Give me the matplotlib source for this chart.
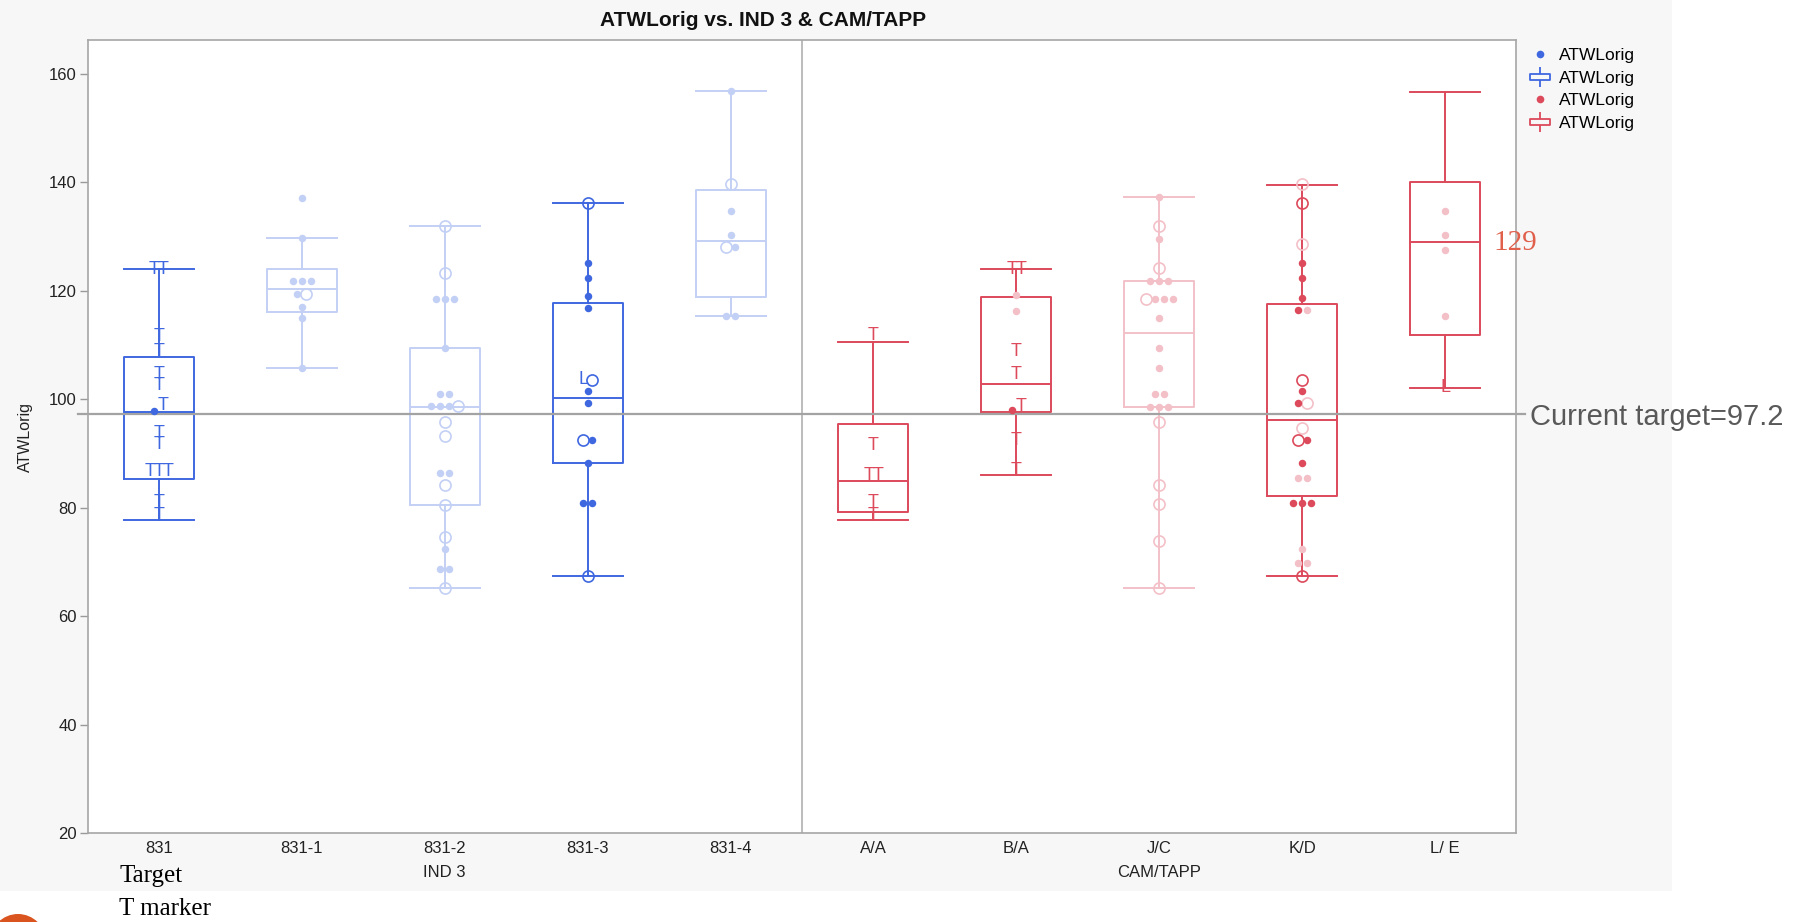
import matplotlib
matplotlib.use("Agg")
import matplotlib.pyplot as plt
from matplotlib.lines import Line2D
from matplotlib.path import Path
from matplotlib.patches import Rectangle, Ellipse

plt.rcParams['font.family'] = ['Liberation Sans', 'DejaVu Sans']

# categories and box statistics (whisker low, q1, median, q3, whisker high)
cats = ['831', '831-1', '831-2', '831-3', '831-4', 'A/A', 'B/A', 'J/C', 'K/D', 'L/ E']
whislo = [77.7, 105.8, 65.1, 67.3, 115.3, 77.7, 86.0, 65.1, 67.3, 102.1]
q1 = [85.2, 116.0, 80.5, 88.2, 118.9, 79.1, 97.7, 98.6, 82.1, 111.9]
med = [97.7, 120.3, 98.6, 100.2, 129.2, 84.9, 102.8, 112.2, 96.1, 128.9]
q3 = [107.7, 123.9, 109.4, 117.7, 138.5, 95.4, 118.9, 121.7, 117.5, 140.0]
whishi = [123.9, 129.7, 132.0, 136.2, 156.8, 110.5, 123.9, 137.3, 139.5, 156.6]

# points (value, kind), left to right where they share a row
p_831 = [(123.9, 'T'), (123.9, 'T'), (111.5, 'T'), (108.8, 'T'), (104.6, 'T'), (102.5, 'T'),
         (97.8, 'dot'), (98.8, 'T'), (93.7, 'T'), (91.6, 'T'), (86.6, 'T'), (86.6, 'T'),
         (86.6, 'T'), (80.9, 'T'), (78.6, 'T')]
p_831_1 = [(137.1, 'dot'), (129.7, 'dot'), (121.8, 'dot'), (121.8, 'dot'), (121.8, 'dot'),
           (119.4, 'dot'), (119.4, 'ring'), (117.0, 'dot'), (114.9, 'dot'), (105.8, 'dot')]
p_831_2 = [(132.0, 'ring'), (123.3, 'ring'), (118.5, 'dot'), (118.5, 'dot'), (118.5, 'dot'),
           (109.4, 'dot'), (101.0, 'dot'), (101.0, 'dot'), (98.7, 'dot'), (98.7, 'dot'),
           (98.7, 'dot'), (98.7, 'ring'), (95.7, 'ring'), (93.1, 'ring'), (86.3, 'dot'),
           (86.3, 'dot'), (84.1, 'ring'), (80.5, 'ring'), (74.6, 'ring'), (72.3, 'dot'),
           (68.7, 'dot'), (68.7, 'dot'), (65.1, 'ring')]
p_831_3 = [(136.2, 'ring'), (125.0, 'dot'), (122.4, 'dot'), (119.0, 'dot'), (116.8, 'dot'),
           (103.6, 'L'), (103.6, 'ring'), (101.5, 'dot'), (99.3, 'dot'), (92.4, 'ring'),
           (92.4, 'dot'), (88.2, 'dot'), (80.9, 'dot'), (80.9, 'dot'), (67.3, 'ring')]
p_831_4 = [(156.8, 'dot'), (139.7, 'ring'), (134.6, 'dot'), (130.3, 'dot'), (128.1, 'ring'),
           (128.1, 'dot'), (115.3, 'dot'), (115.3, 'dot')]
p_aa = [(111.7, 'T'), (91.4, 'T'), (86.0, 'T'), (86.0, 'T'), (80.9, 'T'), (78.6, 'T')]
p_ba = [(123.9, 'T'), (123.9, 'T'), (119.1, 'ldot'), (116.3, 'ldot'), (108.8, 'T'),
        (104.6, 'T'), (98.0, 'dot'), (98.6, 'T'), (92.3, 'T'), (86.8, 'T')]
p_jc = [(137.3, 'dot'), (132.0, 'ring'), (129.6, 'dot'), (124.1, 'ring'), (121.8, 'dot'),
        (121.8, 'dot'), (121.8, 'dot'), (118.5, 'ring'), (118.5, 'dot'), (118.5, 'dot'),
        (118.5, 'dot'), (114.9, 'dot'), (109.5, 'dot'), (105.7, 'dot'), (100.9, 'dot'),
        (100.9, 'dot'), (98.6, 'dot'), (98.6, 'dot'), (98.6, 'dot'), (95.7, 'ring'),
        (84.1, 'ring'), (80.6, 'ring'), (73.8, 'ring'), (65.1, 'ring')]
p_kd = [(139.6, 'lring'), (136.2, 'ring'), (128.5, 'lring'), (125.0, 'dot'), (122.4, 'dot'),
        (118.6, 'dot'), (116.4, 'dot'), (116.4, 'ldot'), (103.6, 'ring'), (101.4, 'dot'),
        (99.2, 'dot'), (99.2, 'lring'), (94.7, 'lring'), (92.4, 'ring'), (92.4, 'dot'),
        (88.2, 'dot'), (85.5, 'ldot'), (85.5, 'ldot'), (80.9, 'dot'), (80.9, 'dot'),
        (80.9, 'dot'), (72.4, 'ldot'), (69.7, 'ldot'), (69.7, 'ldot'), (67.3, 'ring')]
p_le = [(134.6, 'ldot'), (130.3, 'ldot'), (127.5, 'ldot'), (115.4, 'ldot'), (102.1, 'L')]
points = [p_831, p_831_1, p_831_2, p_831_3, p_831_4, p_aa, p_ba, p_jc, p_kd, p_le]

target = 97.2
le_median_label = '129'

BLUE = '#3f68e0'
LBLUE = '#c3d0f5'
RED = '#dc4a5b'
PINK = '#f3c0c8'
box_colors = [BLUE, LBLUE, LBLUE, BLUE, LBLUE, RED, RED, PINK, RED, RED]


def spread(pts, step=0.062, tol=1.1):
    out = []
    used = [False] * len(pts)
    for i, (v, k) in enumerate(pts):
        if used[i]:
            continue
        row = [j for j in range(len(pts)) if not used[j] and abs(pts[j][0] - v) <= tol]
        for j in row:
            used[j] = True
        n = len(row)
        for r, j in enumerate(row):
            out.append(((r - (n - 1) / 2) * step, pts[j][0], pts[j][1]))
    return out


fig = plt.figure(figsize=(18.14, 9.22), dpi=100)
fig.patch.set_facecolor('white')
bg = Rectangle((0, 1 - 891 / 922), 1672 / 1814, 891 / 922, transform=fig.transFigure,
               facecolor='#f7f7f7', edgecolor='none', zorder=-10)
fig.add_artist(bg)
circ = Ellipse((18 / 1814, 1 - 942 / 922), 56 / 1814, 56 / 922, transform=fig.transFigure,
               facecolor='#d9541e', edgecolor='none')
fig.add_artist(circ)

ax = fig.add_axes([88 / 1814, 1 - 833 / 922, (1516 - 88) / 1814, (833 - 40) / 922])
ax.set_facecolor('white')

xs = list(range(len(cats)))
for i in xs:
    st = [dict(med=med[i], q1=q1[i], q3=q3[i], whislo=whislo[i], whishi=whishi[i], fliers=[])]
    c = box_colors[i]
    lp = dict(color=c, linewidth=1.4)
    ax.bxp(st, positions=[i], widths=0.49, capwidths=0.49, showfliers=False,
           boxprops=lp, whiskerprops=lp, capprops=lp, medianprops=lp, manage_ticks=False)

for i, pts in enumerate(points):
    c = box_colors[i]
    for dx, v, k in spread(pts):
        x = i + dx
        if k == 'dot':
            ax.plot(x, v, 'o', ms=5.4, color=c, mec='none', zorder=4)
        elif k == 'ldot':
            ax.plot(x, v, 'o', ms=5.4, color=PINK, mec='none', zorder=3)
        elif k == 'ring':
            ax.plot(x, v, 'o', ms=8, mfc='none', mec=c, mew=1.2, zorder=4)
        elif k == 'lring':
            ax.plot(x, v, 'o', ms=8, mfc='none', mec=PINK, mew=1.2, zorder=3)
        else:
            ax.text(x, v, k, ha='center', va='center', fontsize=13, color=c, zorder=5)

ax.set_xlim(-0.495, 9.495)
ax.set_ylim(20, 166.2)
ax.set_yticks([20, 40, 60, 80, 100, 120, 140, 160])
ax.set_xticks(xs)
ax.set_xticklabels(cats, fontsize=12, color='#222222')
ax.tick_params(axis='x', length=0, pad=6)
ax.tick_params(axis='y', length=6, width=1, color='#999999', labelsize=12, labelcolor='#222222', pad=2)
for s in ax.spines.values():
    s.set_color('#a6a6a6')
    s.set_linewidth(1.2)

ax.axvline(4.5, color='#b0b0b0', lw=1.2, zorder=1)
ax.plot([-0.007, 1.006], [target, target], transform=ax.get_yaxis_transform(),
        color='#a3a3a3', lw=1.6, clip_on=False, zorder=2)

ax.text(2, -0.05, 'IND 3', transform=ax.get_xaxis_transform(), ha='center', va='center',
        fontsize=12, color='#222222')
ax.text(7, -0.05, 'CAM/TAPP', transform=ax.get_xaxis_transform(), ha='center', va='center',
        fontsize=12, color='#222222')

fig.text(763 / 1814, 1 - 21 / 922, 'ATWLorig vs. IND 3 & CAM/TAPP', ha='center', va='center',
         fontsize=15, fontweight='bold', color='#111111')
fig.text(25 / 1814, 1 - 437 / 922, 'ATWLorig', rotation=90, ha='center', va='center',
         fontsize=11.5, color='#222222')

fig.text(1530 / 1814, 1 - 417 / 922, 'Current target=%.1f' % target, ha='left', va='center',
         fontsize=21, color='#595959')
fig.text(1493 / 1814, 1 - 243 / 922, le_median_label, ha='left', va='center',
         fontsize=21, color='#e0604c', family=['Liberation Serif', 'DejaVu Serif'])
fig.text(119 / 1814, 1 - 876 / 922, 'Target', ha='left', va='center', fontsize=18,
         color='black', family=['Liberation Serif', 'DejaVu Serif'])
fig.text(119 / 1814, 1 - 909 / 922, 'T marker', ha='left', va='center', fontsize=18,
         color='black', family=['Liberation Serif', 'DejaVu Serif'])

# legend
box_icon = Path([(-1, -0.35), (1, -0.35), (1, 0.35), (-1, 0.35), (-1, -0.35),
                 (0, 0.35), (0, 1), (0, -0.35), (0, -1)],
                [Path.MOVETO, Path.LINETO, Path.LINETO, Path.LINETO, Path.CLOSEPOLY,
                 Path.MOVETO, Path.LINETO, Path.MOVETO, Path.LINETO])
handles = [
    Line2D([], [], ls='none', marker='o', ms=5.5, color=BLUE, mec='none'),
    Line2D([], [], ls='none', marker=box_icon, ms=14, mfc='none', mec=BLUE, mew=1.3),
    Line2D([], [], ls='none', marker='o', ms=5.5, color=RED, mec='none'),
    Line2D([], [], ls='none', marker=box_icon, ms=14, mfc='none', mec=RED, mew=1.3),
]
fig.legend(handles, ['ATWLorig'] * 4, loc='upper left', bbox_to_anchor=(1531 / 1814, 1 - 48 / 922),
           frameon=False, fontsize=12.5, handlelength=1.0, handletextpad=0.6,
           labelspacing=0.43, borderpad=0, borderaxespad=0)

fig.savefig('out.png', dpi=100)
